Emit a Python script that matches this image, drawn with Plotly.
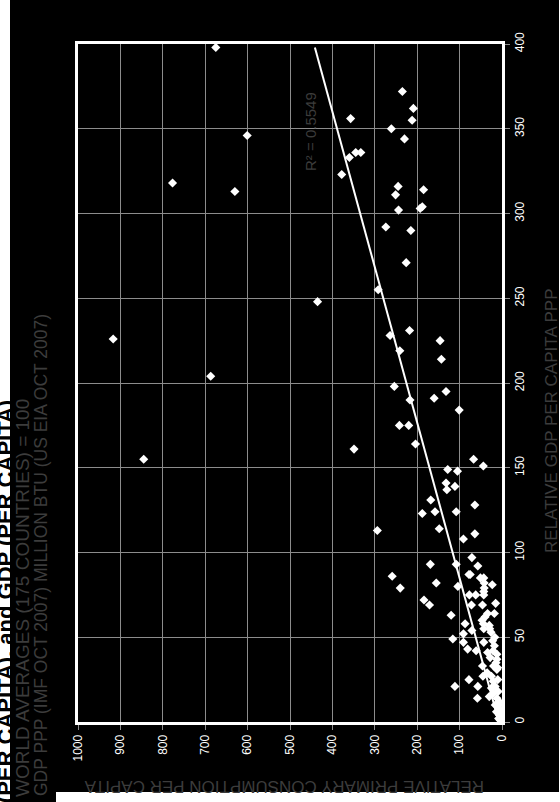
import numpy as np
import plotly.graph_objects as go

# Relative GDP per capita (PPP) and relative primary energy consumption per capita,
# world average = 100 for both.
gdp = [398, 372, 362, 355, 356, 350, 344, 346, 336, 336, 333, 323, 318, 313, 316, 311,
       314, 302, 303, 304, 292, 290, 271, 255, 248, 226, 231, 228, 225, 219, 214, 204,
       198, 195, 191, 190, 184, 175, 175, 155, 161, 113, 164, 155, 151, 149, 148, 141,
       139, 137, 131, 128, 124, 123, 124, 114, 108, 111, 97, 93, 93, 92, 86, 87, 87, 85,
       85, 82, 81, 82, 79, 80, 79, 75, 75, 77, 75, 72, 69, 69, 69, 70, 64, 64, 63, 58,
       58, 54, 55, 55, 53, 50, 49, 52, 47, 43, 42, 47, 41, 42, 40, 37, 33, 33, 32, 31,
       29, 27, 27, 25, 21, 21, 24, 21, 25, 14, 17, 14, 10, 8, 6, 4, 2, 1, 60, 62, 57,
       48, 45, 38, 35, 20, 12, 18, 15, 7, 3, 5, 10]
energy = [675, 235, 209, 212, 357, 261, 230, 601, 345, 333, 360, 378, 777, 630, 245, 251,
          185, 244, 193, 188, 274, 215, 226, 292, 435, 917, 218, 264, 146, 241, 143, 687,
          254, 132, 160, 217, 101, 242, 220, 845, 349, 294, 204, 67, 44, 128, 105, 132,
          111, 130, 168, 64, 158, 188, 108, 148, 91, 64, 71, 169, 108, 57, 259, 78, 75, 51,
          43, 42, 23, 155, 240, 104, 42, 77, 62, 43, 43, 184, 171, 72, 46, 15, 34, 18, 120, 87,
          44, 71, 43, 29, 26, 17, 116, 91, 91, 81, 61, 43, 34, 21, 12, 12, 46, 20, 10, 12,
          35, 45, 25, 78, 111, 57, 21, 16, 10, 58, 20, 12, 16, 8, 13, 6, 8, 4, 47, 40, 30,
          22, 18, 28, 14, 25, 6, 9, 30, 5, 3, 2, 7]

energy_ticks = list(range(0, 1001, 100))
gdp_ticks = list(range(0, 401, 50))
r2_label = "R\u00b2 = 0.5549"

# Linear least-squares trend of energy on GDP
slope, intercept = np.polyfit(gdp, energy, 1)
trend_gdp = [0, max(gdp)]
trend_energy = [intercept + slope * g for g in trend_gdp]

W, H = 560, 802
L, R, T, B = 78, 502, 44, 722


def px(x):
    return (x - L) / (R - L)


def py(y):
    return (B - y) / (B - T)


FONT = "Liberation Sans, Arial, sans-serif"
DIM = "#3c3c3c"

fig = go.Figure()
fig.add_trace(go.Scatter(
    x=energy, y=gdp, mode="markers",
    marker=dict(symbol="diamond", size=7, color="white", line=dict(width=0)),
    showlegend=False, hoverinfo="skip"))
fig.add_trace(go.Scatter(
    x=trend_energy, y=trend_gdp, mode="lines",
    line=dict(color="white", width=2), showlegend=False, hoverinfo="skip"))

axis_common = dict(
    showgrid=True, gridcolor="#8c8c8c", gridwidth=1,
    showline=True, linecolor="white", linewidth=3, mirror=True,
    ticks="outside", ticklen=5, tickcolor="#8c8c8c", tickwidth=1,
    tickangle=-90, tickfont=dict(family=FONT, size=12, color="white"),
    zeroline=False,
)

fig.update_layout(
    width=W, height=H,
    margin=dict(l=L, r=W - R, t=T, b=H - B),
    paper_bgcolor="white", plot_bgcolor="black",
    xaxis=dict(range=[1000, 0], tickvals=energy_ticks, **axis_common),
    yaxis=dict(range=[0, 400], tickvals=gdp_ticks, side="right", **axis_common),
    shapes=[
        dict(type="rect", xref="paper", yref="paper", layer="below",
             x0=px(10), x1=px(559), y0=py(792), y1=py(0),
             fillcolor="black", line=dict(width=0)),
        dict(type="rect", xref="paper", yref="paper", layer="below",
             x0=px(10), x1=px(56), y0=py(803), y1=py(791),
             fillcolor="black", line=dict(width=0)),
    ],
    annotations=[
        dict(text="RELATIVE PRIMARY ENERGY CONSUMPTION (PER CAPITA), and GDP (PER CAPITA)",
             xref="paper", yref="paper", x=px(5), y=py(398), xanchor="center", yanchor="top",
             textangle=-90, showarrow=False,
             font=dict(family=FONT, size=22, color="black", weight="bold")),
        dict(text="WORLD AVERAGES (175 COUNTRIES) = 100",
             xref="paper", yref="paper", x=px(22), y=py(397), xanchor="center", yanchor="top",
             textangle=-90, showarrow=False, font=dict(family=FONT, size=19, color=DIM)),
        dict(text="GDP PPP (IMF OCT 2007) MILLION BTU (US EIA OCT 2007)",
             xref="paper", yref="paper", x=px(41), y=py(312), xanchor="center", yanchor="top",
             textangle=-90, showarrow=False, font=dict(family=FONT, size=17.5, color=DIM)),
        dict(text="RELATIVE PRIMARY CONSUMPTION PER CAPITA",
             xref="paper", yref="paper", x=px(284), y=py(787), xanchor="center", yanchor="middle",
             textangle=180, showarrow=False, font=dict(family=FONT, size=17, color=DIM)),
        dict(text="RELATIVE GDP PER CAPITA PPP",
             xref="paper", yref="paper", x=px(551), y=py(421), xanchor="center", yanchor="middle",
             textangle=-90, showarrow=False, font=dict(family=FONT, size=17, color=DIM)),
        dict(text=r2_label,
             xref="paper", yref="paper", x=px(310), y=py(132), xanchor="center", yanchor="middle",
             textangle=-90, showarrow=False, font=dict(family=FONT, size=15, color=DIM)),
    ],
)

fig.write_html("out.html")
